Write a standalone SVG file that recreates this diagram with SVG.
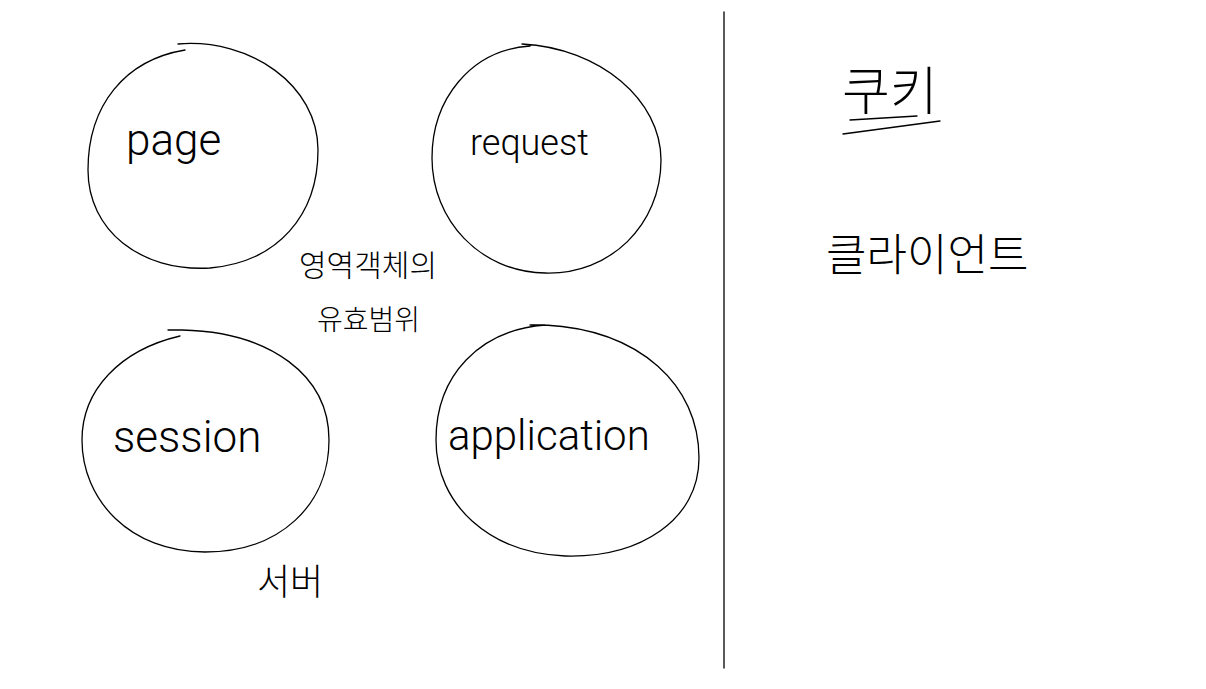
<svg xmlns="http://www.w3.org/2000/svg" width="1206" height="689" viewBox="0 0 1206 689">
<style>
.s{fill:none;stroke:#000;stroke-width:1.3;stroke-linecap:round}
.t{font-family:Roboto,"Noto Sans CJK KR",sans-serif;fill:#000;font-weight:300}
.k{font-family:"Noto Sans CJK KR",sans-serif;fill:#000;font-weight:300}
</style>
<rect width="1206" height="689" fill="#fff"/>
<g id="connectors">
<line class="s" x1="724" y1="12" x2="724" y2="668"/>
</g>
<g id="page">
<path class="s" d="M178,44 C250,38 318,85 318,150 C318,215 278,262 210,268 C140,272 88,230 88,170 C88,105 125,60 185,50"/>
<text class="t" x="126" y="155" font-size="44">page</text>
</g>
<g id="request">
<path class="s" d="M522,44 C600,48 661,100 661,160 C661,225 610,275 545,273 C480,272 432,220 432,158 C432,100 470,50 530,46"/>
<text class="t" x="470" y="155" font-size="36">request</text>
</g>
<g id="session">
<path class="s" d="M168,330 L182,330 C270,332 329,375 329,440 C329,505 280,552 205,552 C130,552 82,500 82,440 C82,390 120,350 180,336"/>
<text class="t" x="113" y="452" font-size="44">session</text>
</g>
<g id="application">
<path class="s" d="M530,325 L545,325 C640,330 699,385 699,458 C699,520 640,558 565,556 C490,553 436,505 436,440 C436,375 480,330 545,325"/>
<text class="t" x="448" y="450" font-size="42">application</text>
</g>
<g id="scope">
<text class="k" x="299" y="276" font-size="30">영역객체의</text>
<text class="k" x="317" y="330" font-size="28">유효범위</text>
</g>
<g id="server">
<text class="k" x="257" y="595" font-size="36">서버</text>
</g>
<g id="cookie">
<text class="k" x="842" y="110" font-size="52">쿠키</text>
<line class="s" x1="850" y1="120" x2="917" y2="116"/>
<line class="s" x1="843" y1="134" x2="940" y2="121"/>
</g>
<g id="client">
<text class="k" x="826" y="271" font-size="44">클라이언트</text>
</g>
</svg>
